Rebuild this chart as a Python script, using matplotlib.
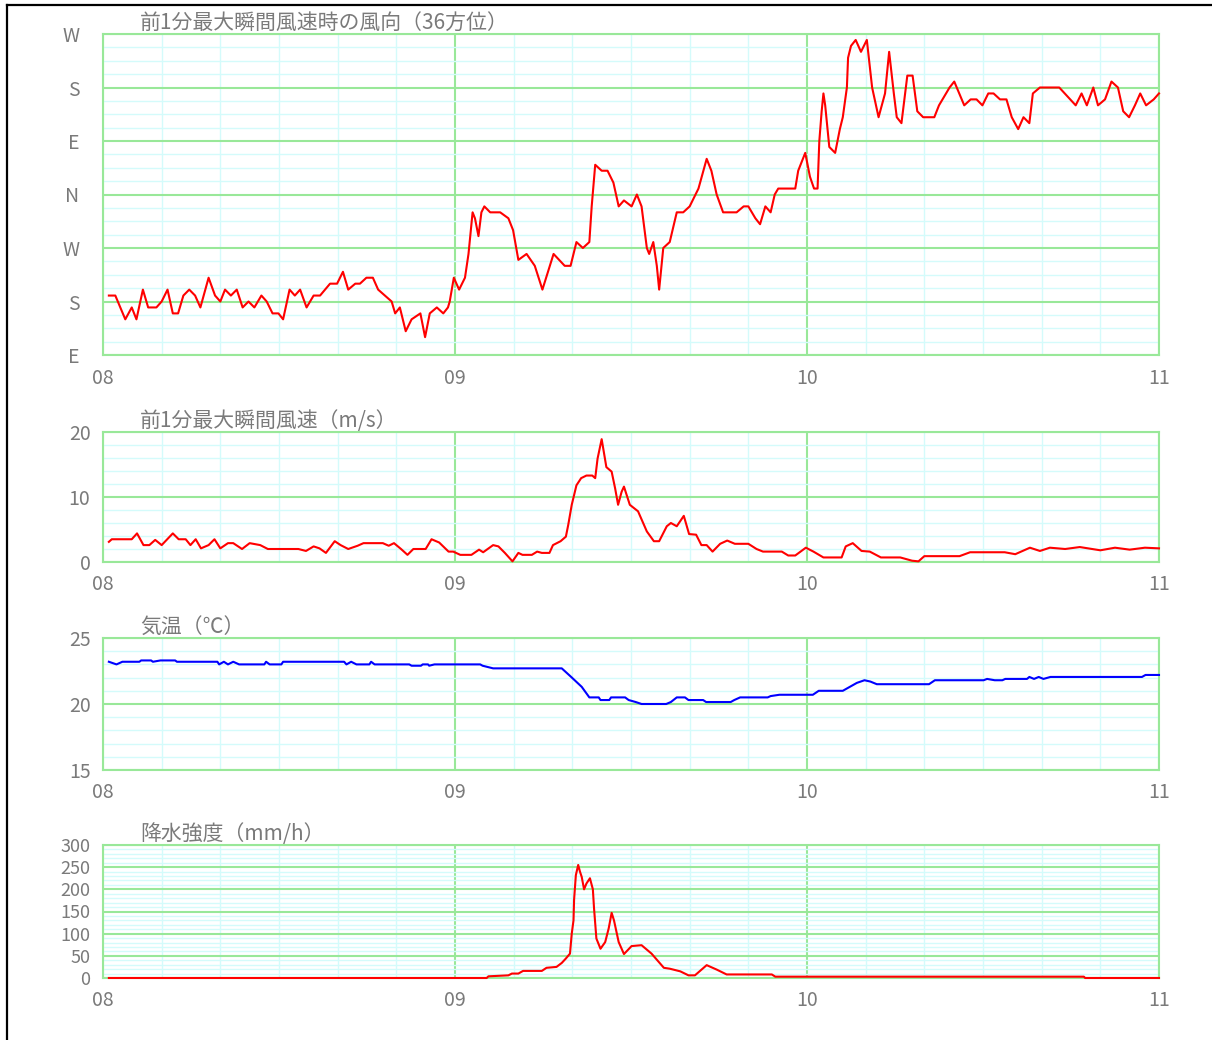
import matplotlib
matplotlib.use("Agg")
import matplotlib.pyplot as plt
from matplotlib.lines import Line2D
from matplotlib.ticker import MultipleLocator, FixedLocator

plt.rcParams['font.family'] = ['Noto Sans CJK JP', 'DejaVu Sans']

######################################################
# Data (minutes after 08:00)

# wind direction at max gust, unwrapped degrees (90 = E, 180 = S, 270 = W, 360 = N, ...)
wd_t = [1, 2.1, 3.8, 4.9, 5.7, 6.8, 7.7, 9.1, 10, 11,
        11.9, 12.8, 13.7, 14.7, 15.7, 16.6, 18, 19.1, 20, 20.8,
        21.8, 22.8, 23.8, 24.8, 25.8, 27, 27.9, 28.9, 29.9, 30.7,
        31.8, 32.7, 33.6, 34.7, 35.9, 37, 38.7, 39.9, 40.9, 41.8,
        43, 43.8, 44.9, 46, 46.9, 49.2, 49.8, 50.6, 51.6, 52.6,
        54.1, 54.9, 55.7, 56.9, 58, 58.8, 59.1, 59.8, 60.7, 61.7,
        62.3, 63, 63.4, 64, 64.5, 65, 66, 67.7, 69.1, 69.9,
        70.8, 72.2, 73.6, 74.9, 76.8, 78.7, 79.7, 80.7, 81.8, 82.9,
        83.3, 83.9, 85, 86, 87, 87.9, 88.8, 90.1, 91, 91.8,
        92.7, 93.1, 93.8, 94.4, 94.8, 95.5, 96.6, 97.8, 98.9, 100,
        101.5, 102.9, 103.7, 104.6, 105.7, 108, 109.2, 110, 111.2, 112,
        112.9, 113.8, 114.5, 115.1, 118, 118.5, 119.7, 120.5, 121.2, 121.8,
        122.1, 122.5, 122.8, 123.1, 123.8, 124.8, 125.6, 126.1, 126.8, 127,
        127.5, 128.3, 129.2, 130.2, 131.1, 132.2, 133.3, 134, 134.8, 135.3,
        136.1, 137.1, 138, 138.8, 139.8, 141.7, 142.5, 144.3, 145.1, 146.8,
        147.9, 148.9, 149.9, 150.9, 151.8, 152.9, 154, 154.9, 156, 156.9,
        157.9, 158.5, 159.7, 163, 165.8, 166.8, 167.7, 168.8, 169.6, 170.8,
        171.9, 173, 173.9, 174.9, 175.9, 176.8, 177.8, 179.1, 180]
wd_v = [190, 190, 150, 170, 150, 200, 170, 170, 180, 200,
        160, 160, 190, 200, 190, 170, 220, 190, 180, 200,
        190, 200, 170, 180, 170, 190, 180, 160, 160, 150,
        200, 190, 200, 170, 190, 190, 210, 210, 230, 200,
        210, 210, 220, 220, 200, 180, 160, 170, 130, 150,
        160, 120, 160, 170, 160, 170, 180, 220, 200, 220,
        260, 330, 320, 290, 330, 340, 330, 330, 320, 300,
        250, 260, 240, 200, 260, 240, 240, 280, 270, 280,
        340, 410, 400, 400, 380, 340, 350, 340, 360, 340,
        270, 260, 280, 240, 200, 270, 280, 330, 330, 340,
        370, 420, 400, 360, 330, 330, 340, 340, 320, 310,
        340, 330, 360, 370, 370, 400, 430, 390, 370, 370,
        450, 500, 530, 510, 440, 430, 470, 490, 540, 590,
        610, 620, 600, 620, 540, 490, 530, 600, 530, 490,
        480, 560, 560, 500, 490, 490, 510, 540, 550, 510,
        520, 520, 510, 530, 530, 520, 520, 490, 470, 490,
        480, 530, 540, 540, 510, 530, 510, 540, 510, 520,
        550, 540, 500, 490, 510, 530, 510, 520, 530]

# max gust speed (m/s)
ws_t = [1, 1.5, 4.9, 5.8, 6.9, 7.9, 8.9, 10, 11.9, 12.9,
        14.1, 14.9, 15.8, 16.7, 18, 19, 20, 21.3, 22.2, 23.7,
        25, 26.8, 28.1, 33.3, 34.6, 35.9, 36.9, 38, 39.5, 40.5,
        41.8, 43.4, 44.4, 47.7, 48.7, 49.6, 50.8, 51.9, 52.9, 55,
        56, 57.3, 58.9, 59.7, 60.9, 62.8, 64.1, 64.8, 66.5, 67.4,
        68.5, 69.8, 70.8, 71.5, 73.1, 74, 74.8, 76.1, 76.7, 78,
        78.9, 79.3, 79.9, 80.7, 81.5, 82.4, 83.4, 83.9, 84.3, 85,
        85.8, 86.7, 87.3, 87.8, 88.4, 88.8, 89.8, 91.2, 92.7, 93.9,
        94.8, 96.1, 96.8, 97.8, 99, 99.9, 101.1, 102, 102.9, 103.9,
        105.2, 106.4, 107.7, 110, 111.4, 112.5, 115.7, 116.8, 118, 119.8,
        121.1, 122.8, 125.9, 126.6, 127.8, 129.3, 130.7, 132.6, 135.9, 137.9,
        139, 140, 146, 147.8, 153.7, 155.5, 158, 159.7, 161.4, 164,
        166.5, 170, 172.5, 175, 177.6, 180]
ws_v = [3.1, 3.5, 3.5, 4.4, 2.6, 2.6, 3.4, 2.6, 4.4, 3.5,
        3.5, 2.6, 3.5, 2.1, 2.6, 3.5, 2.1, 2.9, 2.9, 2.0,
        2.9, 2.6, 2.0, 2.0, 1.7, 2.4, 2.1, 1.4, 3.2, 2.6,
        2.0, 2.5, 2.9, 2.9, 2.5, 2.9, 2.0, 1.1, 2.0, 2.0,
        3.5, 3.0, 1.6, 1.6, 1.1, 1.1, 1.9, 1.5, 2.6, 2.4,
        1.4, 0.1, 1.4, 1.1, 1.1, 1.6, 1.4, 1.4, 2.6, 3.2,
        3.9, 5.7, 8.8, 11.8, 12.9, 13.3, 13.3, 12.9, 15.9, 18.9,
        14.6, 13.9, 11.3, 8.8, 10.8, 11.6, 8.8, 7.8, 4.7, 3.2,
        3.2, 5.5, 6.0, 5.5, 7.1, 4.3, 4.2, 2.6, 2.6, 1.6,
        2.8, 3.3, 2.8, 2.8, 2.0, 1.6, 1.6, 1.0, 1.0, 2.2,
        1.6, 0.7, 0.7, 2.4, 2.9, 1.7, 1.6, 0.7, 0.7, 0.2,
        0.1, 0.9, 0.9, 1.5, 1.5, 1.2, 2.2, 1.7, 2.2, 2.0,
        2.3, 1.8, 2.2, 1.9, 2.2, 2.1]

# air temperature (degC)
tp_t = [1, 2.3, 3.3, 6.2, 6.5, 8.2, 8.5, 9.8, 12.3, 12.6,
        19.5, 19.8, 20.6, 21.3, 22.2, 23.2, 27.5, 27.8, 28.4, 30.4,
        30.7, 41.1, 41.5, 42.3, 43.2, 45.4, 45.7, 46.3, 52.2, 52.6,
        54.2, 54.5, 55.4, 55.6, 56.5, 64.3, 64.7, 66.5, 78.2, 79.8,
        81.6, 82.9, 84.5, 84.8, 86.3, 86.6, 89, 89.6, 90.8, 91.8,
        96, 96.8, 97.8, 99.2, 99.8, 102.3, 102.8, 107, 107.6, 108.6,
        113.3, 113.8, 115.3, 121, 122, 126.1, 126.9, 128.5, 129.8, 130.8,
        131.9, 140.8, 141.8, 150.1, 150.7, 152, 153.3, 153.8, 157.5, 157.9,
        158.7, 159.5, 160.3, 161.5, 177.1, 177.7, 180]
tp_v = [23.2, 23.0, 23.2, 23.2, 23.3, 23.3, 23.2, 23.3, 23.3, 23.2,
        23.2, 23.0, 23.2, 23.0, 23.2, 23.0, 23.0, 23.2, 23.0, 23.0,
        23.2, 23.2, 23.0, 23.2, 23.0, 23.0, 23.2, 23.0, 23.0, 22.9,
        22.9, 23.0, 23.0, 22.9, 23.0, 23.0, 22.9, 22.7, 22.7, 22.05,
        21.3, 20.5, 20.5, 20.3, 20.3, 20.5, 20.5, 20.3, 20.15, 20.0,
        20.0, 20.15, 20.5, 20.5, 20.3, 20.3, 20.15, 20.15, 20.3, 20.5,
        20.5, 20.6, 20.7, 20.7, 21.0, 21.0, 21.2, 21.6, 21.8, 21.7,
        21.5, 21.5, 21.8, 21.8, 21.9, 21.8, 21.8, 21.9, 21.9, 22.05,
        21.9, 22.05, 21.9, 22.05, 22.05, 22.2, 22.2]

# precipitation intensity (mm/h)
pr_t = [1, 65.4, 65.7, 69.1, 69.7, 70.8, 71.6, 74.8, 75.6, 77.3,
        78.2, 78.9, 79.6, 79.9, 80.2, 80.3, 80.6, 81, 81.3, 81.6,
        82, 82.4, 83, 83.5, 83.7, 84.1, 84.8, 85.6, 86.2, 86.7,
        87.1, 87.9, 88.8, 90.1, 91.8, 93.5, 95.6, 96.6, 98.4, 99.8,
        100.9, 102.9, 104.6, 106.3, 114, 114.6, 167.2, 167.4, 180]
pr_v = [0, 0, 3.8, 6, 10, 10, 16, 16, 23, 25,
        34, 44, 55, 100, 130, 177, 232, 255, 240, 228,
        200, 213, 225, 200, 157, 89, 66, 81, 112, 147,
        130, 81, 54, 72, 74, 55, 23, 21, 15, 6,
        6, 29, 19, 8, 8, 3, 3, 0, 0]

hour_labels = ["08", "09", "10", "11"]
dir_ticks = [90, 180, 270, 360, 450, 540, 630]
dir_labels = ["E", "S", "W", "N", "E", "S", "W"]

######################################################

MAJOR = "#99e899"
MINOR = "#d4fbfb"
TXT = "#7a7a7a"

W, H = 1212, 1040
fig = plt.figure(figsize=(W / 100, H / 100), dpi=100)
fig.patch.set_facecolor("white")


def make_axes(top, bottom):
    ax = fig.add_axes([103 / W, 1 - bottom / H, 1056 / W, (bottom - top) / H])
    ax.set_xlim(0, 180)
    ax.xaxis.set_major_locator(FixedLocator([0, 60, 120, 180]))
    ax.set_xticklabels(hour_labels)
    ax.xaxis.set_minor_locator(MultipleLocator(10))
    ax.grid(which="major", color=MAJOR, lw=1.5)
    ax.grid(which="minor", color=MINOR, lw=1.0)
    ax.set_axisbelow(True)
    for s in ax.spines.values():
        s.set_color(MAJOR)
        s.set_linewidth(1.5)
    ax.tick_params(which="both", length=0, labelcolor=TXT, labelsize=14)
    ax.tick_params(axis="x", pad=9)
    ax.tick_params(axis="y", pad=9)
    return ax


def title(ax, text):
    ax.text(0.035, 1.0, text, transform=ax.transAxes, fontsize=15,
            color=TXT, ha="left", va="bottom")


# wind direction
ax1 = make_axes(34, 355)
ax1.plot(wd_t, wd_v, color="red", lw=1.5, zorder=3, clip_on=False)
ax1.set_ylim(90, 630)
ax1.yaxis.set_major_locator(FixedLocator(dir_ticks))
ax1.set_yticklabels(dir_labels)
ax1.yaxis.set_minor_locator(MultipleLocator(22.5))
ax1.tick_params(axis="y", pad=17)
title(ax1, "前1分最大瞬間風速時の風向（36方位）")

# gust speed
ax2 = make_axes(432, 562)
ax2.plot(ws_t, ws_v, color="red", lw=1.5, zorder=3, clip_on=False)
ax2.set_ylim(0, 20)
ax2.yaxis.set_major_locator(MultipleLocator(10))
ax2.yaxis.set_minor_locator(MultipleLocator(2))
title(ax2, "前1分最大瞬間風速（m/s）")

# temperature
ax3 = make_axes(638, 770)
ax3.plot(tp_t, tp_v, color="blue", lw=1.5, zorder=3, clip_on=False)
ax3.set_ylim(15, 25)
ax3.yaxis.set_major_locator(MultipleLocator(5))
ax3.yaxis.set_minor_locator(MultipleLocator(1))
title(ax3, "気温（℃）")

# precipitation
ax4 = make_axes(845, 978)
ax4.plot(pr_t, pr_v, color="red", lw=1.5, zorder=3, clip_on=False)
ax4.set_ylim(0, 300)
ax4.yaxis.set_major_locator(MultipleLocator(50))
ax4.yaxis.set_minor_locator(MultipleLocator(10))
ax4.tick_params(axis="y", labelsize=13)
title(ax4, "降水強度（mm/h）")

# black frame on the left and top edges
fig.add_artist(Line2D([6.5 / W, 6.5 / W], [0, 1 - 4.5 / H], transform=fig.transFigure, color="black", lw=1.6))
fig.add_artist(Line2D([6.5 / W, 1], [1 - 4.5 / H, 1 - 4.5 / H], transform=fig.transFigure, color="black", lw=1.6))

plt.savefig("out.png", dpi=100)
